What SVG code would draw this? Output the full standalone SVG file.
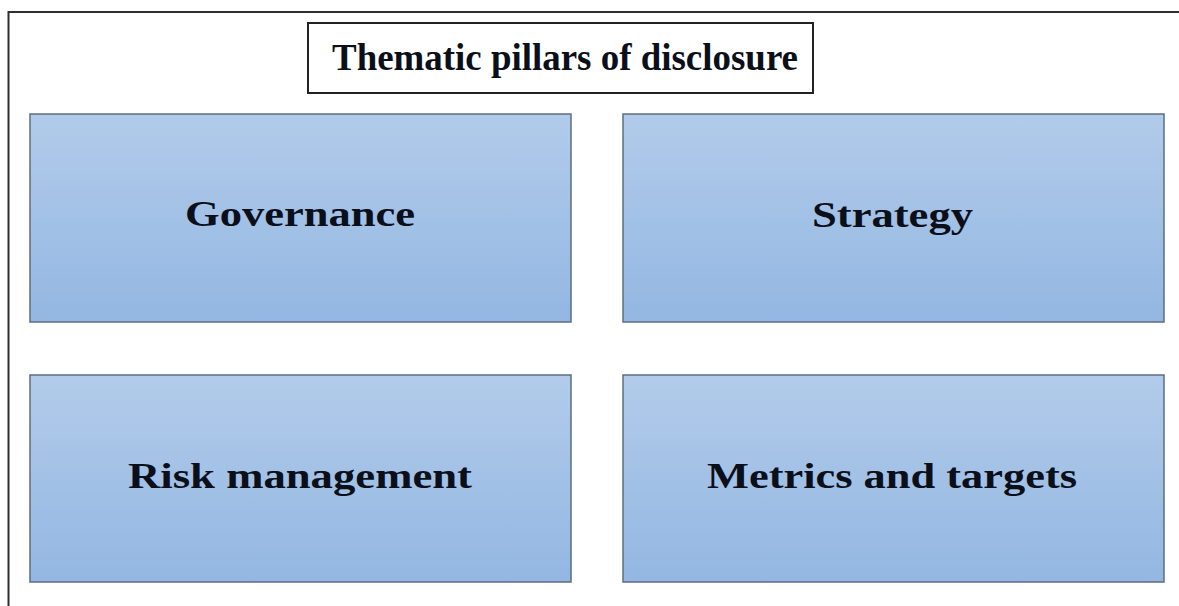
<svg xmlns="http://www.w3.org/2000/svg" width="1179" height="606" viewBox="0 0 1179 606">
  <defs>
    <linearGradient id="pillarFill" x1="0" y1="0" x2="0" y2="1">
      <stop offset="0" stop-color="#b2cbea"/>
      <stop offset="1" stop-color="#93b7e2"/>
    </linearGradient>
    <style>
      .frame { fill: #ffffff; stroke: #2e2e2e; stroke-width: 2; }
      .title-box { fill: #ffffff; stroke: #222222; stroke-width: 2; }
      .pillar { fill: url(#pillarFill); stroke: #5d6c82; stroke-width: 1.5; }
      .label { font-family: "Liberation Serif", "DejaVu Serif", serif; font-weight: bold; fill: #0b0f1a; text-anchor: middle; }
      .title { font-size: 38px; }
      .pillar-label { font-size: 35px; }
    </style>
  </defs>

  <rect width="1179" height="606" fill="#ffffff"/>
  <!-- outer frame runs past the right and bottom edges -->
  <rect class="frame" x="8.5" y="12" width="1190" height="620"/>

  <g id="title">
    <rect class="title-box" x="308" y="23" width="505" height="70"/>
    <text class="label title" x="565" y="70" textLength="466" lengthAdjust="spacingAndGlyphs">Thematic pillars of disclosure</text>
  </g>

  <g id="governance">
    <rect class="pillar" x="30" y="114" width="541" height="208"/>
    <text class="label pillar-label" x="300" y="226" textLength="230" lengthAdjust="spacingAndGlyphs">Governance</text>
  </g>

  <g id="strategy">
    <rect class="pillar" x="623" y="114" width="541" height="208"/>
    <text class="label pillar-label" x="892.5" y="227" textLength="161" lengthAdjust="spacingAndGlyphs">Strategy</text>
  </g>

  <g id="risk-management">
    <rect class="pillar" x="30" y="375" width="541" height="207"/>
    <text class="label pillar-label" x="300" y="488" textLength="344" lengthAdjust="spacingAndGlyphs">Risk management</text>
  </g>

  <g id="metrics-and-targets">
    <rect class="pillar" x="623" y="375" width="541" height="207"/>
    <text class="label pillar-label" x="892" y="488" textLength="370" lengthAdjust="spacingAndGlyphs">Metrics and targets</text>
  </g>

  <g id="connectors"/>
</svg>
